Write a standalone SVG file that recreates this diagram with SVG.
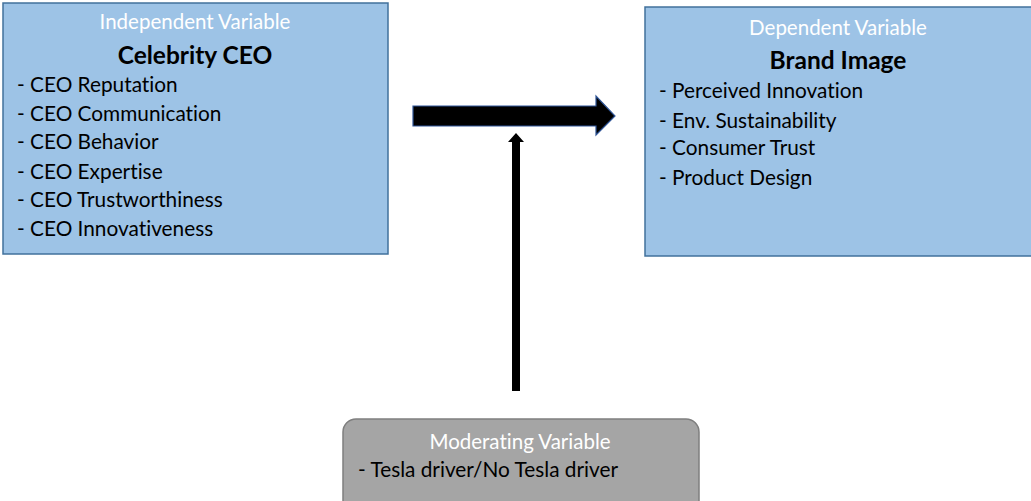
<svg xmlns="http://www.w3.org/2000/svg" width="1031" height="501" viewBox="0 0 1031 501">
<style>
text{font-variant-ligatures:none}
.box{fill:#9DC3E6;stroke:#41719C;stroke-width:1.5}
.hd{font-family:Lato,"Liberation Sans",sans-serif;font-size:20.5px;fill:#FFFFFF;text-anchor:middle}
.tt{font-family:Lato,"Liberation Sans",sans-serif;font-size:24.5px;font-weight:bold;fill:#000;text-anchor:middle}
.it{font-family:Lato,"Liberation Sans",sans-serif;font-size:20.8px;fill:#000}
</style>
<rect width="1031" height="501" fill="#FFFFFF"/>
<g id="independent">
<rect class="box" x="3" y="3" width="385" height="251"/>
<text class="hd" x="195" y="29">Independent Variable</text>
<text class="tt" x="195" y="64">Celebrity CEO</text>
<text class="it" x="17" y="92">- CEO Reputation</text>
<text class="it" x="17" y="121">- CEO Communication</text>
<text class="it" x="17" y="149">- CEO Behavior</text>
<text class="it" x="17" y="179">- CEO Expertise</text>
<text class="it" x="17" y="207">- CEO Trustworthiness</text>
<text class="it" x="17" y="236">- CEO Innovativeness</text>
</g>
<g id="dependent">
<rect class="box" x="645" y="7" width="390" height="249"/>
<text class="hd" x="838" y="35">Dependent Variable</text>
<text class="tt" x="838" y="69">Brand Image</text>
<text class="it" x="659" y="98">- Perceived Innovation</text>
<text class="it" x="659" y="128">- Env. Sustainability</text>
<text class="it" x="659" y="155">- Consumer Trust</text>
<text class="it" x="659" y="185">- Product Design</text>
</g>
<g id="moderating">
<rect x="343" y="419" width="356" height="95" rx="13" ry="13" fill="#A5A5A5" stroke="#7F7F7F" stroke-width="1.5"/>
<text class="hd" x="520" y="449">Moderating Variable</text>
<text class="it" x="358" y="477">- Tesla driver/No Tesla driver</text>
</g>
<g id="connectors">
<polygon points="413,106 596,106 596,96 615,116 596,135 596,126 413,126" fill="#000000" stroke="#2F5597" stroke-width="1.2"/>
<polygon points="512,391 512,142 508,142 516,133 524,142 520,142 520,391" fill="#000000"/>
</g>
</svg>
